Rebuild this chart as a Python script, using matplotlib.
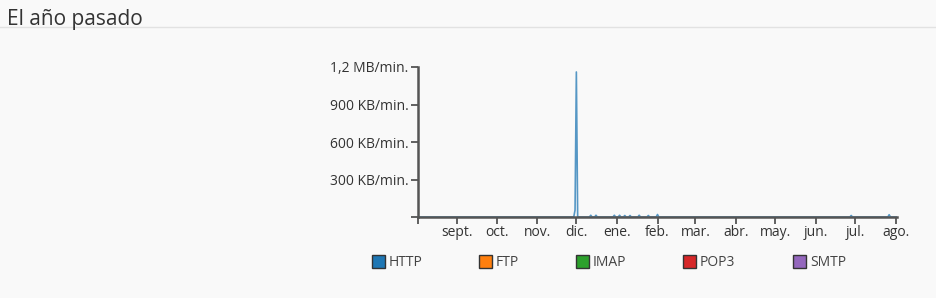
import datetime as dt
import matplotlib.pyplot as plt
import matplotlib.dates as mdates
from matplotlib.patches import Rectangle
from matplotlib.lines import Line2D

plt.rcParams['font.family'] = ['Open Sans', 'DejaVu Sans']

# datos
inicio = dt.date(2023, 8, 2)
fin = dt.date(2024, 8, 2)
series = ["HTTP", "FTP", "IMAP", "POP3", "SMTP"]
colores = ["#1f77b4", "#ff7f0e", "#2ca02c", "#d62728", "#9467bd"]

# dias con trafico HTTP (KB/min)
http_fechas = [dt.date(2023, 11, 30), dt.date(2023, 12, 1), dt.date(2023, 12, 12),
               dt.date(2023, 12, 16), dt.date(2023, 12, 30), dt.date(2024, 1, 3),
               dt.date(2024, 1, 7), dt.date(2024, 1, 11), dt.date(2024, 1, 18),
               dt.date(2024, 1, 25), dt.date(2024, 2, 1), dt.date(2024, 6, 28),
               dt.date(2024, 7, 27)]
http_valores = [55, 1160, 14, 14, 14, 14, 12, 12, 14, 12, 20, 12, 18]

meses = ["sept.", "oct.", "nov.", "dic.", "ene.", "feb.", "mar.", "abr.", "may.", "jun.", "jul.", "ago."]
y_ticks = [0, 300, 600, 900, 1200]
y_labels = ["", "300 KB/min.", "600 KB/min.", "900 KB/min.", "1,2 MB/min."]

# serie diaria
dias = [inicio + dt.timedelta(days=i) for i in range((fin - inicio).days + 1)]
http = [0.0] * len(dias)
for f, v in zip(http_fechas, http_valores):
    http[(f - inicio).days] = v

fondo = "#f9f9f9"
fig = plt.figure(figsize=(9.37, 2.98), dpi=100, facecolor=fondo)

fig.text(7 / 937, 1 - 19.5 / 298, "El año pasado", fontsize=15, color="#333333", va="center", ha="left")
fig.add_artist(Line2D([0, 1], [1 - 26.5 / 298, 1 - 26.5 / 298], color="#e2e2e2", lw=1))

ax = fig.add_axes([418 / 937, 1 - 217 / 298, (897 - 418) / 937, 150 / 298])
ax.set_facecolor(fondo)
ax.plot(dias, http, color=colores[0], lw=1.2, alpha=0.75)
for c in colores[1:]:
    ax.plot(dias, [0] * len(dias), color=c, lw=0)

ax.set_xlim(inicio, fin)
ax.set_ylim(0, 1200)
for s in ["top", "right"]:
    ax.spines[s].set_visible(False)
for s in ["left", "bottom"]:
    ax.spines[s].set_color("#555555")
    ax.spines[s].set_linewidth(1.8)

ax.set_yticks(y_ticks)
ax.set_yticklabels(y_labels)
ticks_x = [dt.date(2023 + (8 + i) // 12, (8 + i) % 12 + 1, 1) for i in range(12)]
ax.set_xticks([mdates.date2num(inicio)] + [mdates.date2num(t) for t in ticks_x])
ax.set_xticklabels([""] + meses)
ax.tick_params(axis="both", colors="#555555", labelcolor="#333333", labelsize=10, length=5, width=1.3)
ax.tick_params(axis="x", pad=0.5)
ax.tick_params(axis="y", pad=2)

# leyenda
leyenda_x = [372, 479, 576, 683, 793]
for x0, nombre, c in zip(leyenda_x, series, colores):
    fig.add_artist(Rectangle((x0 / 937, 1 - 268 / 298), 13 / 937, 13 / 298,
                             facecolor=c, edgecolor="#333333", lw=1))
    fig.text((x0 + 17) / 937, 1 - 262 / 298, nombre, fontsize=10, color="#444444", va="center", ha="left")

fig.savefig("out.png", dpi=100, facecolor=fondo)
